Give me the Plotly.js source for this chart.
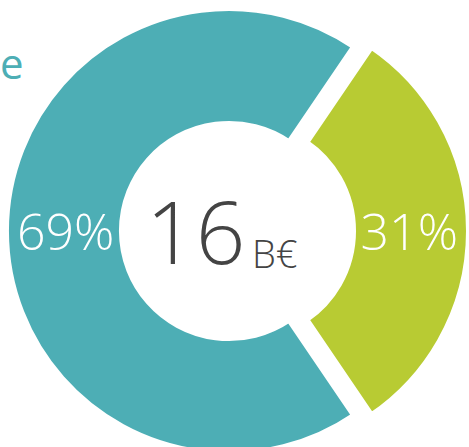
<!DOCTYPE html>
<html>
<head>
<meta charset="utf-8">
<script src="https://cdn.plot.ly/plotly-3.0.1.min.js"></script>
<style>
html, body { margin: 0; padding: 0; width: 469px; height: 447px; overflow: hidden; background: #ffffff; }
#chart { position: absolute; left: -11px; top: -9px; width: 480px; height: 480px; }
</style>
</head>
<body>
<div id="chart"></div>
<script>
// Data
var sliceLabels = ['Part B', 'Part A'];
var sliceValues = [31, 69];
var sliceColors = ['#B8CB33', '#4DAEB5'];
var slicePull = [0.076, 0];
var centerValue = '16';
var centerUnit = 'B€';
var titleFragment = 'e';

var W = 480, H = 480, offX = 11, offY = 9;
function px(x) { return (x + offX) / W; }
function py(y) { return 1 - (y + offY) / H; }

var trace = {
  type: 'pie',
  labels: sliceLabels,
  values: sliceValues,
  sort: false,
  direction: 'clockwise',
  rotation: 34.2,
  hole: 0.48,
  pull: slicePull,
  marker: { colors: sliceColors, line: { color: '#ffffff', width: 6 } },
  textinfo: 'percent',
  texttemplate: '%{percent:.0%}',
  textposition: 'inside',
  insidetextorientation: 'radial',
  textfont: { family: 'Open Sans', size: 50, color: '#ffffff', weight: 300 },
  hoverinfo: 'none',
  domain: { x: [0, 1], y: [0, 1] }
};

var layout = {
  width: W,
  height: H,
  margin: { l: 0, r: 0, t: 0, b: 0, pad: 0 },
  paper_bgcolor: '#ffffff',
  showlegend: false,
  hovermode: false,
  annotations: [
    { text: centerValue, xref: 'paper', yref: 'paper', x: px(247), y: py(230), xanchor: 'right', yanchor: 'middle',
      showarrow: false, font: { family: 'Open Sans', size: 87, color: '#444444', weight: 300 } },
    { text: centerUnit, xref: 'paper', yref: 'paper', x: px(250), y: py(253), xanchor: 'left', yanchor: 'middle',
      showarrow: false, font: { family: 'Open Sans', size: 38, color: '#444444', weight: 300 } },
    { text: titleFragment, xref: 'paper', yref: 'paper', x: px(-2), y: py(62), xanchor: 'left', yanchor: 'middle',
      showarrow: false, font: { family: 'Open Sans', size: 42, color: '#4DAEB5', weight: 400 } }
  ]
};

Plotly.newPlot('chart', [trace], layout, { displayModeBar: false, staticPlot: true });
</script>
</body>
</html>
